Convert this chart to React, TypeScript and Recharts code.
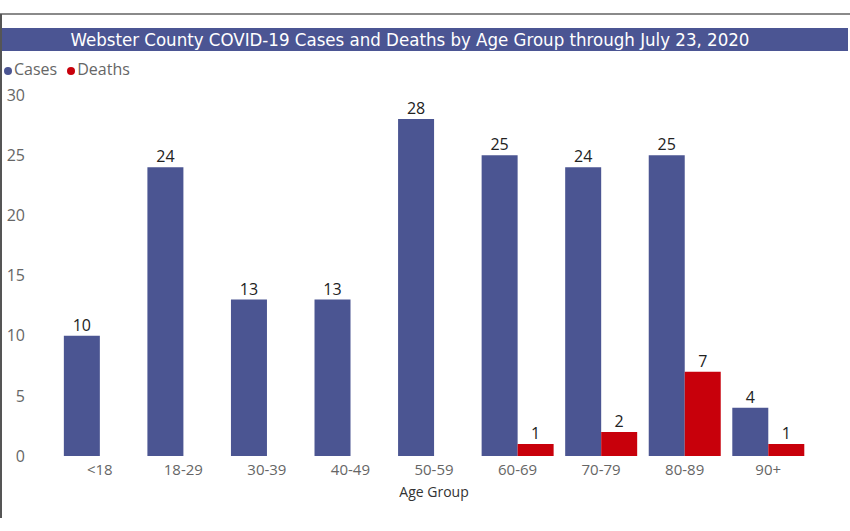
import React from "react";
import { BarChart, Bar, XAxis, YAxis, Legend, LabelList } from "recharts";

const categories = ["<18", "18-29", "30-39", "40-49", "50-59", "60-69", "70-79", "80-89", "90+"];
const cases = [10, 24, 13, 13, 28, 25, 24, 25, 4];
const deaths = [null, null, null, null, null, 1, 2, 7, 1];
const yTicks = [0, 5, 10, 15, 20, 25, 30];
const title = "Webster County COVID-19 Cases and Deaths by Age Group through July 23, 2020";

const data = categories.map((c, i) => ({ group: c, Cases: cases[i], Deaths: deaths[i] }));

const FONT = "'Open Sans', 'DejaVu Sans', sans-serif";

export default function App() {
  return (
    <div style={{ position: "absolute", left: 0, top: 0, width: 850, height: 531, background: "#fff", fontFamily: FONT, overflow: "hidden" }}>
      <div style={{ position: "absolute", left: 0, top: 13, width: 850, height: 2, background: "#8a8a8a" }} />
      <div style={{ position: "absolute", left: 0, top: 14, width: 2, height: 504, background: "#555" }} />
      <div
        style={{
          position: "absolute",
          left: 2,
          top: 28,
          width: 846,
          height: 23,
          background: "#4b5593",
          color: "#fff",
          fontSize: 18.5,
          lineHeight: "23px",
          textAlign: "center",
          paddingRight: 30,
          boxSizing: "border-box",
          fontFamily: "'DejaVu Sans Condensed', 'Open Sans', sans-serif",
          whiteSpace: "nowrap",
        }}
      >
        {title}
      </div>
      <div style={{ position: "absolute", left: 0, top: 0 }}>
        <BarChart
          width={850}
          height={531}
          data={data}
          margin={{ top: 73, right: 40, bottom: 45, left: 0 }}
          barCategoryGap="7%"
          barGap={0}
        >
          <YAxis
            width={58}
            domain={[0, 30]}
            ticks={yTicks}
            axisLine={false}
            tickLine={false}
            tickSize={0}
            tickMargin={33}
            tick={{ fill: "#666", fontSize: 16, fontFamily: FONT }}
          />
          <XAxis
            dataKey="group"
            axisLine={false}
            tickLine={false}
            tickMargin={2}
            tick={{ fill: "#666", fontSize: 15, fontFamily: FONT }}
            label={{ value: "Age Group", position: "insideBottom", offset: -11, fill: "#333", fontSize: 14, fontFamily: FONT }}
          />
          <Legend
            verticalAlign="top"
            align="left"
            iconType="circle"
            iconSize={8}
            wrapperStyle={{ position: "absolute", top: 58, left: 4, fontSize: 16, fontFamily: FONT }}
            formatter={(v) => <span style={{ color: "#666", marginLeft: -2 }}>{v}</span>}
          />
          <Bar dataKey="Cases" fill="#4b5592" isAnimationActive={false}>
            <LabelList dataKey="Cases" position="top" offset={5} fill="#222" fontSize={16} fontFamily={FONT} />
          </Bar>
          <Bar dataKey="Deaths" fill="#c8000b" isAnimationActive={false}>
            <LabelList dataKey="Deaths" position="top" offset={5} fill="#222" fontSize={16} fontFamily={FONT} />
          </Bar>
        </BarChart>
      </div>
    </div>
  );
}
